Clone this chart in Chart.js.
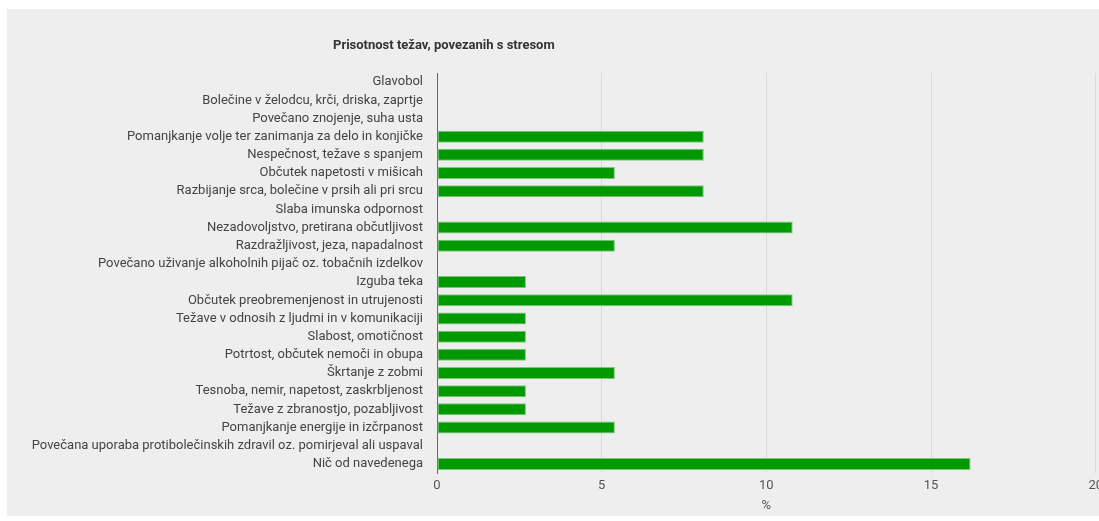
<!DOCTYPE html>
<html>
<head>
<meta charset="utf-8">
<script src="https://cdn.jsdelivr.net/npm/chart.js@4"></script>
<style>
  html, body { margin: 0; padding: 0; background: #ffffff; }
  #panel { position: absolute; left: 7px; top: 9px; width: 1092px; height: 507px; background: #eeeeee; overflow: hidden; }
  #wrap { position: absolute; left: 0; top: 0; width: 1101px; height: 507px; }
</style>
</head>
<body>
<div id="panel"><div id="wrap"><canvas id="c"></canvas></div></div>
<script>
const chartTitle = "Prisotnost težav, povezanih s stresom";
const axisTitle = "%";
const categories = [
  "Glavobol",
  "Bolečine v želodcu, krči, driska, zaprtje",
  "Povečano znojenje, suha usta",
  "Pomanjkanje volje ter zanimanja za delo in konjičke",
  "Nespečnost, težave s spanjem",
  "Občutek napetosti v mišicah",
  "Razbijanje srca, bolečine v prsih ali pri srcu",
  "Slaba imunska odpornost",
  "Nezadovoljstvo, pretirana občutljivost",
  "Razdražljivost, jeza, napadalnost",
  "Povečano uživanje alkoholnih pijač oz. tobačnih izdelkov",
  "Izguba teka",
  "Občutek preobremenjenost in utrujenosti",
  "Težave v odnosih z ljudmi in v komunikaciji",
  "Slabost, omotičnost",
  "Potrtost, občutek nemoči in obupa",
  "Škrtanje z zobmi",
  "Tesnoba, nemir, napetost, zaskrbljenost",
  "Težave z zbranostjo, pozabljivost",
  "Pomanjkanje energije in izčrpanost",
  "Povečana uporaba protibolečinskih zdravil oz. pomirjeval ali uspaval",
  "Nič od navedenega"
];
const values = [0, 0, 0, 8.1, 8.1, 5.4, 8.1, 0, 10.8, 5.4, 0, 2.7, 10.8, 2.7, 2.7, 2.7, 5.4, 2.7, 2.7, 5.4, 0, 16.2];
const xTicks = [0, 5, 10, 15, 20];

const titlePlugin = {
  id: 'leftTitle',
  afterDraw(chart) {
    const ctx = chart.ctx;
    ctx.save();
    ctx.font = 'bold 13px Roboto';
    ctx.fillStyle = '#333333';
    ctx.textAlign = 'left';
    ctx.textBaseline = 'middle';
    ctx.fillText(chartTitle, 326, 37);
    ctx.restore();
  }
};

new Chart(document.getElementById('c'), {
  type: 'bar',
  data: {
    labels: categories,
    datasets: [{
      data: values,
      backgroundColor: '#009900',
      borderColor: '#7cc67c',
      borderWidth: 1,
      borderSkipped: false,
      barPercentage: 0.66,
      categoryPercentage: 1.0
    }]
  },
  options: {
    indexAxis: 'y',
    responsive: true,
    maintainAspectRatio: false,
    animation: false,
    layout: { padding: { top: 64, left: 0, right: 0, bottom: 0 } },
    plugins: { legend: { display: false }, title: { display: false }, tooltip: { enabled: false } },
    scales: {
      x: {
        min: 0, max: 20,
        afterBuildTicks(scale) { scale.ticks = xTicks.map(v => ({ value: v })); },
        grid: { color: '#d9d9d9', lineWidth: 1, drawTicks: false },
        border: { display: false },
        ticks: { color: '#555555', font: { family: 'Roboto', size: 13 }, padding: 5, maxRotation: 0 },
        title: { display: true, text: axisTitle, color: '#555555', font: { family: 'Roboto', size: 13 }, padding: { top: 0, bottom: 2 } },
        afterFit(scale) { scale.height = 43; }
      },
      y: {
        grid: { display: false, drawTicks: false },
        border: { display: true, color: '#666666', width: 1 },
        ticks: { color: '#444444', font: { family: 'Roboto', size: 13 }, padding: 14, autoSkip: false },
        afterFit(scale) { scale.width = 430; }
      }
    }
  },
  plugins: [titlePlugin]
});
</script>
</body>
</html>
